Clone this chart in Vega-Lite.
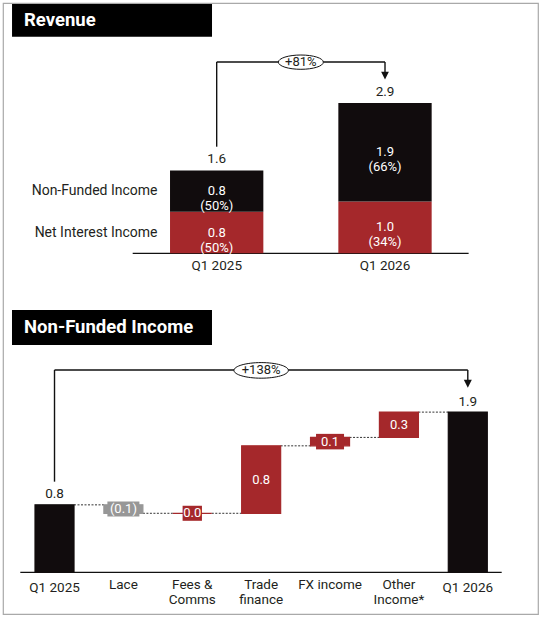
{
  "$schema": "https://vega.github.io/schema/vega-lite/v6.json",
  "width": 541,
  "height": 617,
  "autosize": {"type": "fit", "contains": "padding"},
  "padding": 3,
  "background": "white",
  "config": {
    "view": {"stroke": "#a9a9a9", "strokeWidth": 1.2},
    "font": "Roboto",
    "text": {"font": "Roboto", "color": "#231f20"}
  },
  "datasets": {
    "rev": [
      {"quarter": "Q1 2025", "component": "Net Interest Income", "value": 0.8, "share": 0.5, "order": 1},
      {"quarter": "Q1 2025", "component": "Non-Funded Income", "value": 0.8, "share": 0.5, "order": 2},
      {"quarter": "Q1 2026", "component": "Net Interest Income", "value": 1.0, "share": 0.34, "order": 1},
      {"quarter": "Q1 2026", "component": "Non-Funded Income", "value": 1.9, "share": 0.66, "order": 2}
    ],
    "revArrow": [
      {"from": "Q1 2025", "to": "Q1 2025", "lo": 2.058, "hi": 3.693},
      {"from": "Q1 2025", "to": "Q1 2026", "lo": 3.693, "hi": 3.693},
      {"from": "Q1 2026", "to": "Q1 2026", "lo": 3.693, "hi": 3.5}
    ],
    "nfi": [
      {"cat": "Q1 2025", "label": "Q1 2025", "kind": "total", "start": 0, "end": 0.8, "change": 0.8, "next": "Lace"},
      {"cat": "Lace", "label": "Lace", "kind": "decrease", "start": 0.8, "end": 0.7, "change": -0.1, "next": "Fees & Comms"},
      {"cat": "Fees & Comms", "label": "Fees &\nComms", "kind": "increase", "start": 0.7, "end": 0.7, "change": 0.0, "next": "Trade finance"},
      {"cat": "Trade finance", "label": "Trade\nfinance", "kind": "increase", "start": 0.7, "end": 1.5, "change": 0.8, "next": "FX income"},
      {"cat": "FX income", "label": "FX income", "kind": "increase", "start": 1.5, "end": 1.6, "change": 0.1, "next": "Other Income*"},
      {"cat": "Other Income*", "label": "Other\nIncome*", "kind": "increase", "start": 1.6, "end": 1.9, "change": 0.3, "next": "Q1 2026"},
      {"cat": "Q1 2026", "label": "Q1 2026", "kind": "total", "start": 0, "end": 1.9, "change": 1.9, "next": null}
    ],
    "nfiArrow": [
      {"from": "Q1 2025", "to": "Q1 2025", "lo": 1.075, "hi": 2.4},
      {"from": "Q1 2025", "to": "Q1 2026", "lo": 2.4, "hi": 2.4},
      {"from": "Q1 2026", "to": "Q1 2026", "lo": 2.4, "hi": 2.27}
    ]
  },
  "layer": [
    {
      "data": {"values": [{"panel": "Revenue"}]},
      "mark": {"type": "rule", "color": "#111111", "strokeWidth": 1.3},
      "encoding": {
        "x": {"datum": "Q1 2025", "bandPosition": -0.4, "scale": {"type": "band", "domain": ["Q1 2025", "Q1 2026"], "paddingInner": 0.4456, "paddingOuter": 0.812, "align": 0.611}, "axis": null},
        "x2": {"datum": "Q1 2026", "bandPosition": 1.396},
        "y": {"datum": 0, "type": "quantitative", "scale": {"type": "linear", "domain": [-6.963, 4.832], "nice": false, "zero": false}, "axis": null}
      }
    },
    {
      "data": {"name": "rev"},
      "transform": [
        {"stack": "value", "groupby": ["quarter"], "sort": [{"field": "order", "order": "ascending"}], "as": ["v0", "v1"]}
      ],
      "mark": {"type": "bar"},
      "encoding": {
        "x": {"field": "quarter", "type": "nominal", "scale": {"type": "band", "domain": ["Q1 2025", "Q1 2026"], "paddingInner": 0.4456, "paddingOuter": 0.812, "align": 0.611}, "axis": null},
        "y": {"field": "v0", "type": "quantitative", "scale": {"type": "linear", "domain": [-6.963, 4.832], "nice": false, "zero": false}, "axis": null},
        "y2": {"field": "v1"},
        "color": {"field": "component", "type": "nominal", "scale": {"domain": ["Net Interest Income", "Non-Funded Income"], "range": ["#a5282b", "#110c0d"]}, "legend": null}
      }
    },
    {
      "data": {"name": "rev"},
      "transform": [
        {"stack": "value", "groupby": ["quarter"], "sort": [{"field": "order", "order": "ascending"}], "as": ["v0", "v1"]},
        {"fold": ["v0", "v1"], "as": ["edge", "level"]},
        {"aggregate": [{"op": "mean", "field": "level", "as": "mid"}], "groupby": ["quarter", "component", "value", "share"]}
      ],
      "mark": {"type": "text", "text": {"expr": "[format(datum.value, '.1f'), '(' + format(datum.share, '.0%') + ')']"}, "color": "white", "fontSize": 13, "lineHeight": 15, "baseline": "middle", "align": "center"},
      "encoding": {
        "x": {"field": "quarter", "type": "nominal", "scale": {"type": "band", "domain": ["Q1 2025", "Q1 2026"], "paddingInner": 0.4456, "paddingOuter": 0.812, "align": 0.611}, "axis": null},
        "y": {"field": "mid", "type": "quantitative", "scale": {"type": "linear", "domain": [-6.963, 4.832], "nice": false, "zero": false}, "axis": null}
      }
    },
    {
      "data": {"name": "rev"},
      "transform": [
        {"filter": "datum.quarter == 'Q1 2025'"},
        {"stack": "value", "groupby": ["quarter"], "sort": [{"field": "order", "order": "ascending"}], "as": ["v0", "v1"]},
        {"fold": ["v0", "v1"], "as": ["edge", "level"]},
        {"aggregate": [{"op": "mean", "field": "level", "as": "mid"}], "groupby": ["quarter", "component"]}
      ],
      "mark": {"type": "text", "fontSize": 14, "baseline": "middle", "align": "right", "dx": -12.5},
      "encoding": {
        "x": {"field": "quarter", "type": "nominal", "bandPosition": 0, "scale": {"type": "band", "domain": ["Q1 2025", "Q1 2026"], "paddingInner": 0.4456, "paddingOuter": 0.812, "align": 0.611}, "axis": null},
        "y": {"field": "mid", "type": "quantitative", "scale": {"type": "linear", "domain": [-6.963, 4.832], "nice": false, "zero": false}, "axis": null},
        "text": {"field": "component"}
      }
    },
    {
      "data": {"name": "rev"},
      "transform": [
        {"aggregate": [{"op": "sum", "field": "value", "as": "total"}], "groupby": ["quarter"]}
      ],
      "mark": {"type": "text", "fontSize": 13.5, "baseline": "middle", "align": "center", "dy": -11.5},
      "encoding": {
        "x": {"field": "quarter", "type": "nominal", "scale": {"type": "band", "domain": ["Q1 2025", "Q1 2026"], "paddingInner": 0.4456, "paddingOuter": 0.812, "align": 0.611}, "axis": null},
        "y": {"field": "total", "type": "quantitative", "scale": {"type": "linear", "domain": [-6.963, 4.832], "nice": false, "zero": false}, "axis": null},
        "text": {"field": "total", "format": ".1f"}
      }
    },
    {
      "data": {"name": "rev"},
      "transform": [
        {"aggregate": [{"op": "sum", "field": "value", "as": "total"}], "groupby": ["quarter"]}
      ],
      "mark": {"type": "text", "fontSize": 13.5, "baseline": "top", "align": "center", "dy": 6},
      "encoding": {
        "x": {"field": "quarter", "type": "nominal", "scale": {"type": "band", "domain": ["Q1 2025", "Q1 2026"], "paddingInner": 0.4456, "paddingOuter": 0.812, "align": 0.611}, "axis": null},
        "y": {"datum": 0, "type": "quantitative", "scale": {"type": "linear", "domain": [-6.963, 4.832], "nice": false, "zero": false}, "axis": null},
        "text": {"field": "quarter"}
      }
    },
    {
      "data": {"name": "revArrow"},
      "mark": {"type": "rule", "color": "#111111", "strokeWidth": 1.4},
      "encoding": {
        "x": {"field": "from", "type": "nominal", "bandPosition": 0.5, "scale": {"type": "band", "domain": ["Q1 2025", "Q1 2026"], "paddingInner": 0.4456, "paddingOuter": 0.812, "align": 0.611}, "axis": null},
        "x2": {"field": "to", "bandPosition": 0.5},
        "y": {"field": "lo", "type": "quantitative", "scale": {"type": "linear", "domain": [-6.963, 4.832], "nice": false, "zero": false}, "axis": null},
        "y2": {"field": "hi"}
      }
    },
    {
      "data": {"values": [{"quarter": "Q1 2026", "tip": 3.432}]},
      "mark": {"type": "point", "shape": "M-1,-1L1,-1L0,1Z", "size": 60, "filled": true, "fill": "#111111", "opacity": 1, "strokeWidth": 0},
      "encoding": {
        "x": {"field": "quarter", "type": "nominal", "bandPosition": 0.5, "scale": {"type": "band", "domain": ["Q1 2025", "Q1 2026"], "paddingInner": 0.4456, "paddingOuter": 0.812, "align": 0.611}, "axis": null},
        "y": {"field": "tip", "type": "quantitative", "scale": {"type": "linear", "domain": [-6.963, 4.832], "nice": false, "zero": false}, "axis": null}
      }
    },
    {
      "data": {"values": [{"growth": "+81%", "level": 3.69}]},
      "mark": {"type": "point", "shape": "M-2.81,0C-2.81,-0.494,-1.552,-0.894,0,-0.894C1.552,-0.894,2.81,-0.494,2.81,0C2.81,0.494,1.552,0.894,0,0.894C-1.552,0.894,-2.81,0.494,-2.81,0Z", "size": 256, "filled": true, "fill": "white", "stroke": "#111111", "strokeWidth": 1, "opacity": 1},
      "encoding": {
        "x": {"datum": "Q1 2025", "bandPosition": 1.402, "scale": {"type": "band", "domain": ["Q1 2025", "Q1 2026"], "paddingInner": 0.4456, "paddingOuter": 0.812, "align": 0.611}, "axis": null},
        "y": {"field": "level", "type": "quantitative", "scale": {"type": "linear", "domain": [-6.963, 4.832], "nice": false, "zero": false}, "axis": null}
      }
    },
    {
      "data": {"values": [{"growth": "+81%", "level": 3.69}]},
      "mark": {"type": "text", "fontSize": 13, "baseline": "middle", "align": "center"},
      "encoding": {
        "x": {"datum": "Q1 2025", "bandPosition": 1.402, "scale": {"type": "band", "domain": ["Q1 2025", "Q1 2026"], "paddingInner": 0.4456, "paddingOuter": 0.812, "align": 0.611}, "axis": null},
        "y": {"field": "level", "type": "quantitative", "scale": {"type": "linear", "domain": [-6.963, 4.832], "nice": false, "zero": false}, "axis": null},
        "text": {"field": "growth"}
      }
    },
    {
      "data": {"values": [{"title": "Revenue"}]},
      "mark": {"type": "rect", "color": "#000000"},
      "encoding": {
        "x": {"datum": "Q1 2025", "bandPosition": -1.693, "scale": {"type": "band", "domain": ["Q1 2025", "Q1 2026"], "paddingInner": 0.4456, "paddingOuter": 0.812, "align": 0.611}, "axis": null},
        "x2": {"datum": "Q1 2025", "bandPosition": 0.45},
        "y": {"datum": 4.813, "type": "quantitative", "scale": {"type": "linear", "domain": [-6.963, 4.832], "nice": false, "zero": false}, "axis": null},
        "y2": {"datum": 4.181}
      }
    },
    {
      "data": {"values": [{"title": "Revenue"}]},
      "mark": {"type": "text", "fontSize": 18.5, "fontWeight": "bold", "color": "white", "align": "left", "baseline": "middle"},
      "encoding": {
        "x": {"datum": "Q1 2025", "bandPosition": -1.565, "scale": {"type": "band", "domain": ["Q1 2025", "Q1 2026"], "paddingInner": 0.4456, "paddingOuter": 0.812, "align": 0.611}, "axis": null},
        "y": {"datum": 4.498, "type": "quantitative", "scale": {"type": "linear", "domain": [-6.963, 4.832], "nice": false, "zero": false}, "axis": null},
        "text": {"field": "title"}
      }
    },
    {
      "data": {"values": [{"panel": "Non-Funded Income"}]},
      "mark": {"type": "rule", "color": "#111111", "strokeWidth": 1.3},
      "encoding": {
        "x": {"datum": "Q1 2025", "bandPosition": -0.377, "scale": {"type": "band", "domain": ["Q1 2025", "Lace", "Fees & Comms", "Trade finance", "FX income", "Other Income*", "Q1 2026"], "paddingInner": 0.4338, "paddingOuter": 0.6004, "align": 0.387}, "axis": null},
        "x2": {"datum": "Q1 2026", "bandPosition": 1.369},
        "y": {"datum": 0, "type": "quantitative", "scale": {"type": "linear", "domain": [-0.4947, 6.753], "nice": false, "zero": false}, "axis": null}
      }
    },
    {
      "data": {"name": "nfi"},
      "transform": [{"filter": "datum.next != null"}],
      "mark": {"type": "rule", "strokeDash": [2, 1.5], "strokeWidth": 1, "color": "#333333"},
      "encoding": {
        "x": {"field": "cat", "type": "nominal", "bandPosition": 1, "scale": {"type": "band", "domain": ["Q1 2025", "Lace", "Fees & Comms", "Trade finance", "FX income", "Other Income*", "Q1 2026"], "paddingInner": 0.4338, "paddingOuter": 0.6004, "align": 0.387}, "axis": null},
        "x2": {"field": "next", "bandPosition": 0},
        "y": {"field": "end", "type": "quantitative", "scale": {"type": "linear", "domain": [-0.4947, 6.753], "nice": false, "zero": false}, "axis": null}
      }
    },
    {
      "data": {"name": "nfi"},
      "mark": {"type": "bar", "strokeWidth": 1.2},
      "encoding": {
        "x": {"field": "cat", "type": "nominal", "scale": {"type": "band", "domain": ["Q1 2025", "Lace", "Fees & Comms", "Trade finance", "FX income", "Other Income*", "Q1 2026"], "paddingInner": 0.4338, "paddingOuter": 0.6004, "align": 0.387}, "axis": null},
        "y": {"field": "start", "type": "quantitative", "scale": {"type": "linear", "domain": [-0.4947, 6.753], "nice": false, "zero": false}, "axis": null},
        "y2": {"field": "end"},
        "color": {"field": "kind", "type": "nominal", "scale": {"domain": ["total", "increase", "decrease"], "range": ["#110c0d", "#a5282b", "#979797"]}, "legend": null},
        "stroke": {"field": "kind", "type": "nominal", "scale": {"domain": ["total", "increase", "decrease"], "range": ["#110c0d", "#a5282b", "#979797"]}, "legend": null}
      }
    },
    {
      "data": {"name": "nfi"},
      "transform": [
        {"filter": "datum.kind != 'total' && abs(datum.change) < 0.2"},
        {"fold": ["start", "end"], "as": ["edge", "level"]},
        {"aggregate": [{"op": "mean", "field": "level", "as": "mid"}], "groupby": ["cat", "kind", "change"]}
      ],
      "mark": {"type": "point", "filled": true, "size": 256, "opacity": 1, "strokeWidth": 0},
      "encoding": {
        "x": {"field": "cat", "type": "nominal", "bandPosition": 0.5, "scale": {"type": "band", "domain": ["Q1 2025", "Lace", "Fees & Comms", "Trade finance", "FX income", "Other Income*", "Q1 2026"], "paddingInner": 0.4338, "paddingOuter": 0.6004, "align": 0.387}, "axis": null},
        "y": {"field": "mid", "type": "quantitative", "scale": {"type": "linear", "domain": [-0.4947, 6.753], "nice": false, "zero": false}, "axis": null},
        "color": {"field": "kind", "type": "nominal", "scale": {"domain": ["increase", "decrease"], "range": ["#a5282b", "#979797"]}, "legend": null},
        "shape": {"field": "cat", "type": "nominal", "scale": {"domain": ["Lace", "Fees & Comms", "FX income"], "range": ["M-2,-0.94L2,-0.94L2,0.94L-2,0.94Z", "M-1.21,-0.94L1.21,-0.94L1.21,0.94L-1.21,0.94Z", "M-1.75,-0.97L1.75,-0.97L1.75,0.97L-1.75,0.97Z"]}, "legend": null}
      }
    },
    {
      "data": {"name": "nfi"},
      "transform": [
        {"filter": "datum.kind != 'total'"},
        {"fold": ["start", "end"], "as": ["edge", "level"]},
        {"aggregate": [{"op": "mean", "field": "level", "as": "mid"}], "groupby": ["cat", "kind", "change"]}
      ],
      "mark": {"type": "text", "fontSize": 13, "color": "white", "baseline": "middle", "align": "center"},
      "encoding": {
        "x": {"field": "cat", "type": "nominal", "bandPosition": 0.5, "scale": {"type": "band", "domain": ["Q1 2025", "Lace", "Fees & Comms", "Trade finance", "FX income", "Other Income*", "Q1 2026"], "paddingInner": 0.4338, "paddingOuter": 0.6004, "align": 0.387}, "axis": null},
        "y": {"field": "mid", "type": "quantitative", "scale": {"type": "linear", "domain": [-0.4947, 6.753], "nice": false, "zero": false}, "axis": null},
        "text": {"field": "change", "format": "(.1f"}
      }
    },
    {
      "data": {"name": "nfi"},
      "transform": [{"filter": "datum.kind == 'total'"}],
      "mark": {"type": "text", "fontSize": 13.5, "baseline": "middle", "align": "center", "dy": -10.5},
      "encoding": {
        "x": {"field": "cat", "type": "nominal", "bandPosition": 0.5, "scale": {"type": "band", "domain": ["Q1 2025", "Lace", "Fees & Comms", "Trade finance", "FX income", "Other Income*", "Q1 2026"], "paddingInner": 0.4338, "paddingOuter": 0.6004, "align": 0.387}, "axis": null},
        "y": {"field": "end", "type": "quantitative", "scale": {"type": "linear", "domain": [-0.4947, 6.753], "nice": false, "zero": false}, "axis": null},
        "text": {"field": "change", "format": ".1f"}
      }
    },
    {
      "data": {"name": "nfi"},
      "transform": [{"filter": "datum.kind == 'total'"}],
      "mark": {"type": "text", "fontSize": 13.5, "baseline": "top", "align": "center", "dy": 9},
      "encoding": {
        "x": {"field": "cat", "type": "nominal", "bandPosition": 0.5, "scale": {"type": "band", "domain": ["Q1 2025", "Lace", "Fees & Comms", "Trade finance", "FX income", "Other Income*", "Q1 2026"], "paddingInner": 0.4338, "paddingOuter": 0.6004, "align": 0.387}, "axis": null},
        "y": {"datum": 0, "type": "quantitative", "scale": {"type": "linear", "domain": [-0.4947, 6.753], "nice": false, "zero": false}, "axis": null},
        "text": {"field": "label"}
      }
    },
    {
      "data": {"name": "nfi"},
      "transform": [{"filter": "datum.kind != 'total'"}],
      "mark": {"type": "text", "fontSize": 13.5, "baseline": "top", "align": "center", "dy": 5.5, "lineBreak": "\n", "lineHeight": 15},
      "encoding": {
        "x": {"field": "cat", "type": "nominal", "bandPosition": 0.5, "scale": {"type": "band", "domain": ["Q1 2025", "Lace", "Fees & Comms", "Trade finance", "FX income", "Other Income*", "Q1 2026"], "paddingInner": 0.4338, "paddingOuter": 0.6004, "align": 0.387}, "axis": null},
        "y": {"datum": 0, "type": "quantitative", "scale": {"type": "linear", "domain": [-0.4947, 6.753], "nice": false, "zero": false}, "axis": null},
        "text": {"field": "label"}
      }
    },
    {
      "data": {"name": "nfiArrow"},
      "mark": {"type": "rule", "color": "#111111", "strokeWidth": 1.4},
      "encoding": {
        "x": {"field": "from", "type": "nominal", "bandPosition": 0.5, "scale": {"type": "band", "domain": ["Q1 2025", "Lace", "Fees & Comms", "Trade finance", "FX income", "Other Income*", "Q1 2026"], "paddingInner": 0.4338, "paddingOuter": 0.6004, "align": 0.387}, "axis": null},
        "x2": {"field": "to", "bandPosition": 0.5},
        "y": {"field": "lo", "type": "quantitative", "scale": {"type": "linear", "domain": [-0.4947, 6.753], "nice": false, "zero": false}, "axis": null},
        "y2": {"field": "hi"}
      }
    },
    {
      "data": {"values": [{"cat": "Q1 2026", "tip": 2.237}]},
      "mark": {"type": "point", "shape": "M-1,-1L1,-1L0,1Z", "size": 64, "filled": true, "fill": "#111111", "opacity": 1, "strokeWidth": 0},
      "encoding": {
        "x": {"field": "cat", "type": "nominal", "bandPosition": 0.5, "scale": {"type": "band", "domain": ["Q1 2025", "Lace", "Fees & Comms", "Trade finance", "FX income", "Other Income*", "Q1 2026"], "paddingInner": 0.4338, "paddingOuter": 0.6004, "align": 0.387}, "axis": null},
        "y": {"field": "tip", "type": "quantitative", "scale": {"type": "linear", "domain": [-0.4947, 6.753], "nice": false, "zero": false}, "axis": null}
      }
    },
    {
      "data": {"values": [{"growth": "+138%", "level": 2.395}]},
      "mark": {"type": "point", "shape": "M-3.4,0C-3.4,-0.538,-1.878,-0.975,0,-0.975C1.878,-0.975,3.4,-0.538,3.4,0C3.4,0.538,1.878,0.975,0,0.975C-1.878,0.975,-3.4,0.538,-3.4,0Z", "size": 256, "filled": true, "fill": "white", "stroke": "#111111", "strokeWidth": 1, "opacity": 1},
      "encoding": {
        "x": {"datum": "Trade finance", "bandPosition": 0.5, "scale": {"type": "band", "domain": ["Q1 2025", "Lace", "Fees & Comms", "Trade finance", "FX income", "Other Income*", "Q1 2026"], "paddingInner": 0.4338, "paddingOuter": 0.6004, "align": 0.387}, "axis": null},
        "y": {"field": "level", "type": "quantitative", "scale": {"type": "linear", "domain": [-0.4947, 6.753], "nice": false, "zero": false}, "axis": null}
      }
    },
    {
      "data": {"values": [{"growth": "+138%", "level": 2.395}]},
      "mark": {"type": "text", "fontSize": 13, "baseline": "middle", "align": "center"},
      "encoding": {
        "x": {"datum": "Trade finance", "bandPosition": 0.5, "scale": {"type": "band", "domain": ["Q1 2025", "Lace", "Fees & Comms", "Trade finance", "FX income", "Other Income*", "Q1 2026"], "paddingInner": 0.4338, "paddingOuter": 0.6004, "align": 0.387}, "axis": null},
        "y": {"field": "level", "type": "quantitative", "scale": {"type": "linear", "domain": [-0.4947, 6.753], "nice": false, "zero": false}, "axis": null},
        "text": {"field": "growth"}
      }
    },
    {
      "data": {"values": [{"title": "Non-Funded Income"}]},
      "mark": {"type": "rect", "color": "#000000"},
      "encoding": {
        "x": {"datum": "Q1 2025", "bandPosition": -0.59, "scale": {"type": "band", "domain": ["Q1 2025", "Lace", "Fees & Comms", "Trade finance", "FX income", "Other Income*", "Q1 2026"], "paddingInner": 0.4338, "paddingOuter": 0.6004, "align": 0.387}, "axis": null},
        "x2": {"datum": "Q1 2025", "bandPosition": 4.538},
        "y": {"datum": 3.111, "type": "quantitative", "scale": {"type": "linear", "domain": [-0.4947, 6.753], "nice": false, "zero": false}, "axis": null},
        "y2": {"datum": 2.696}
      }
    },
    {
      "data": {"values": [{"title": "Non-Funded Income"}]},
      "mark": {"type": "text", "fontSize": 18.5, "fontWeight": "bold", "color": "white", "align": "left", "baseline": "middle"},
      "encoding": {
        "x": {"datum": "Q1 2025", "bandPosition": -0.282, "scale": {"type": "band", "domain": ["Q1 2025", "Lace", "Fees & Comms", "Trade finance", "FX income", "Other Income*", "Q1 2026"], "paddingInner": 0.4338, "paddingOuter": 0.6004, "align": 0.387}, "axis": null},
        "y": {"datum": 2.904, "type": "quantitative", "scale": {"type": "linear", "domain": [-0.4947, 6.753], "nice": false, "zero": false}, "axis": null},
        "text": {"field": "title"}
      }
    }
  ],
  "resolve": {
    "scale": {"x": "independent", "y": "independent", "color": "independent", "stroke": "independent", "shape": "independent"}
  }
}
